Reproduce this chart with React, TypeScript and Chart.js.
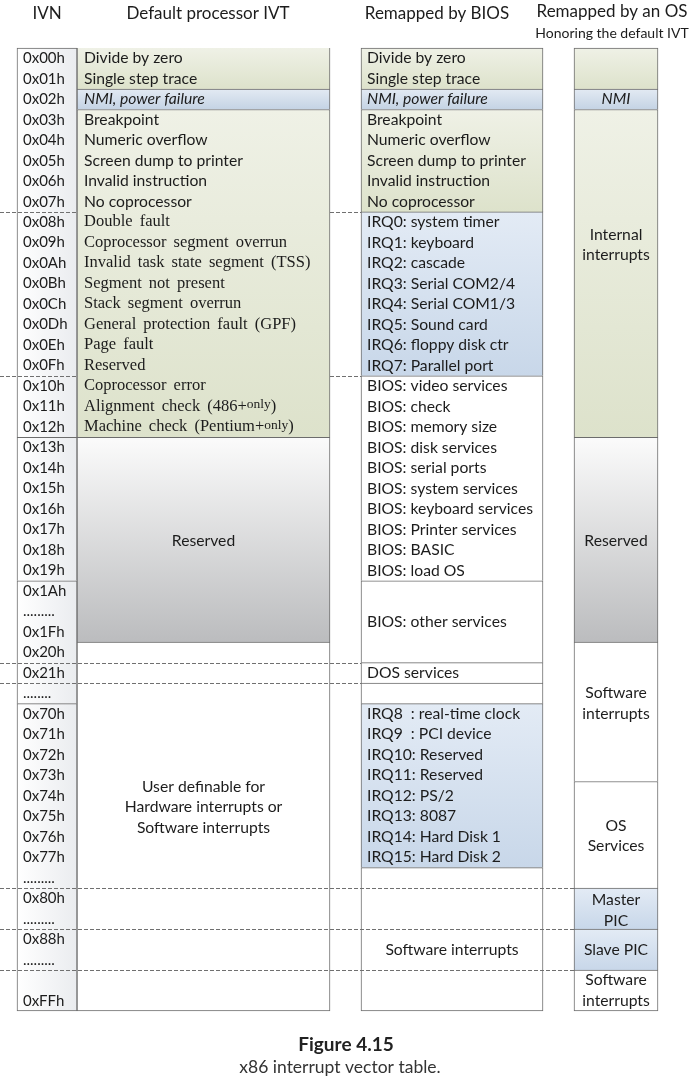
import React, { useEffect, useRef } from "react";
import { Chart, registerables } from "chart.js";

Chart.register(...registerables);

// ---------------- data ----------------
const IVN_LABELS = [
  "0x00h", "0x01h", "0x02h", "0x03h", "0x04h", "0x05h", "0x06h", "0x07h",
  "0x08h", "0x09h", "0x0Ah", "0x0Bh", "0x0Ch", "0x0Dh", "0x0Eh", "0x0Fh",
  "0x10h", "0x11h", "0x12h", "0x13h", "0x14h", "0x15h", "0x16h", "0x17h",
  "0x18h", "0x19h", "0x1Ah", ".........", "0x1Fh", "0x20h", "0x21h", "........",
  "0x70h", "0x71h", "0x72h", "0x73h", "0x74h", "0x75h", "0x76h", "0x77h",
  ".........", "0x80h", ".........", "0x88h", ".........", "", "0xFFh",
];
const IVN_SPANS = [[0, 19], [19, 26], [26, 32], [32, 47]];
const IVN_KINDS = ["ivn", "ivn", "ivn", "ivn"];

const DEFAULT_SPANS = [[0, 2], [2, 3], [3, 19], [19, 29], [29, 47]];
const DEFAULT_KINDS = ["exception", "nmi", "exception", "reserved", "free"];
const DEFAULT_ROW_TEXT = [
  "Divide by zero", "Single step trace", "NMI, power failure", "Breakpoint",
  "Numeric overflow", "Screen dump to printer", "Invalid instruction", "No coprocessor",
  "Double fault", "Coprocessor segment overrun", "Invalid task state segment (TSS)",
  "Segment not present", "Stack segment overrun", "General protection fault (GPF)",
  "Page fault", "Reserved", "Coprocessor error", "Alignment check (486+only)",
  "Machine check (Pentium+only)",
];
const DEFAULT_BLOCK_TEXT = [
  { lines: ["Reserved"], at: 24.05 },
  { lines: ["User definable for", "Hardware interrupts or", "Software interrupts"], at: 37.05 },
];

const BIOS_SPANS = [[0, 2], [2, 3], [3, 8], [8, 16], [16, 26], [26, 30], [30, 31], [31, 32], [32, 40], [40, 47]];
const BIOS_KINDS = ["exception", "nmi", "exception", "irq", "free", "free", "free", "free", "irq", "free"];
const BIOS_ROW_TEXT = [
  "Divide by zero", "Single step trace", "NMI, power failure", "Breakpoint",
  "Numeric overflow", "Screen dump to printer", "Invalid instruction", "No coprocessor",
  "IRQ0: system timer", "IRQ1: keyboard", "IRQ2: cascade", "IRQ3: Serial COM2/4",
  "IRQ4: Serial COM1/3", "IRQ5: Sound card", "IRQ6: floppy disk ctr", "IRQ7: Parallel port",
  "BIOS: video services", "BIOS: check", "BIOS: memory size", "BIOS: disk services",
  "BIOS: serial ports", "BIOS: system services", "BIOS: keyboard services",
  "BIOS: Printer services", "BIOS: BASIC", "BIOS: load OS",
  "", "", "", "", "DOS services", "",
  "IRQ8  : real-time clock", "IRQ9  : PCI device", "IRQ10: Reserved", "IRQ11: Reserved",
  "IRQ12: PS/2", "IRQ13: 8087", "IRQ14: Hard Disk 1", "IRQ15: Hard Disk 2",
  "", "", "", "", "", "", "",
];
const BIOS_BLOCK_TEXT = [
  { lines: ["BIOS: other services"], at: 28, align: "left" },
  { lines: ["Software interrupts"], at: 44, align: "center" },
];

const OS_SPANS = [[0, 2], [2, 3], [3, 19], [19, 29], [29, 35.8], [35.8, 41], [41, 43], [43, 45], [45, 47]];
const OS_KINDS = ["exception", "nmi", "exception", "reserved", "free", "free", "irq", "irq", "free"];
const OS_BLOCK_TEXT = [
  { lines: ["NMI"], at: 2.5, italic: true },
  { lines: ["Internal", "interrupts"], at: 9.6 },
  { lines: ["Reserved"], at: 24.05 },
  { lines: ["Software", "interrupts"], at: 32 },
  { lines: ["OS", "Services"], at: 38.45 },
  { lines: ["Master", "PIC"], at: 42.1 },
  { lines: ["Slave PIC"], at: 44 },
  { lines: ["Software", "interrupts"], at: 46 },
];

const HEADER_TITLES = ["IVN", "Default processor IVT", "Remapped by BIOS", "Remapped by an OS"];
const HEADER_SUBTITLE = "Honoring the default IVT";
const CAPTION_TITLE = "Figure 4.15";
const CAPTION_TEXT = "x86 interrupt vector table.";

// separator rows drawn as dashed lines (short: around the exception block, mid: through the
// default column, long: across all three left columns)
const DASH_SHORT_ROWS = [8, 16];
const DASH_MID_ROWS = [30, 31];
const DASH_LONG_ROWS = [41, 43, 45];

// ---------------- layout & style ----------------
const WIDTH = 693;
const HEIGHT = 1085;
const ROW_PX = 963 / 47;
const Y_MIN = -48 / ROW_PX;
const Y_MAX = Y_MIN + HEIGHT / ROW_PX;

const COLS = [
  { left: 17, right: 77 },   // IVN
  { left: 77, right: 330 },  // default
  { left: 361, right: 543 }, // BIOS
  { left: 574, right: 658 }, // OS
];
const HEADER_LAYOUT = [
  { x: 47, row: -1.66 },
  { x: 208, row: -1.66 },
  { x: 437, row: -1.66 },
  { x: 612, row: -1.76 },
];
const SUBTITLE_LAYOUT = { x: 612, row: -0.73 };
const CAPTION_LAYOUT = { x: 346, rowTitle: 48.63, rowText: 49.76 };

const SANS = "Lato, 'Open Sans', sans-serif";
const SERIF = "'Liberation Serif', 'Times New Roman', serif";
const TEXT_COLOR = "#1c1c1c";
const BORDER = "#6c6c6c";
const SERIF_ROWS_FROM = 8;
const ROW_FONT_PX = 15.7;

const GRADIENTS: Record<string, [string, string]> = {
  exception: ["#eff1e6", "#dde2cb"],
  nmi: ["#e3eaf3", "#c4d3e4"],
  irq: ["#e3ebf5", "#c8d7e9"],
  reserved: ["#fbfbfb", "#bbbcbe"],
  free: ["#ffffff", "#ffffff"],
  ivn: ["#ffffff", "#eaecef"],
};

const SPANS = [IVN_SPANS, DEFAULT_SPANS, BIOS_SPANS, OS_SPANS];
const KINDS = [IVN_KINDS, DEFAULT_KINDS, BIOS_KINDS, OS_KINDS];

function fillFor(c: any) {
  const kinds = KINDS[c.datasetIndex];
  if (!kinds || c.dataIndex === undefined || !c.raw) return "#ffffff";
  const kind = kinds[c.dataIndex];
  const [c0, c1] = GRADIENTS[kind];
  const chart = c.chart;
  const ys = chart.scales && chart.scales.y;
  const xs = chart.scales && chart.scales.x;
  if (!ys || !xs || !chart.chartArea) return c0;
  let a: number, b: number, horizontal = false;
  if (kind === "ivn") {
    const col = COLS[c.datasetIndex];
    a = xs.getPixelForValue(col.left);
    b = xs.getPixelForValue(col.right);
    horizontal = true;
  } else {
    a = ys.getPixelForValue(c.raw.y[0]);
    b = ys.getPixelForValue(c.raw.y[1]);
  }
  if (!isFinite(a) || !isFinite(b) || a === b) return c0;
  const lo = Math.min(a, b), hi = Math.max(a, b);
  const g = horizontal
    ? chart.ctx.createLinearGradient(lo, 0, hi, 0)
    : chart.ctx.createLinearGradient(0, lo, 0, hi);
  g.addColorStop(0, c0);
  g.addColorStop(1, c1);
  return g;
}

function borderFor(c: any) {
  const spans = SPANS[c.datasetIndex];
  if (!spans || c.dataIndex === undefined) return 1;
  const i = c.dataIndex;
  const noTop = c.datasetIndex === 1 && i === 0;
  return { top: noTop ? 0 : 1, left: 1, right: 1, bottom: i === spans.length - 1 ? 1 : 0 };
}

function makeDataset(i: number) {
  const col = COLS[i];
  const center = (col.left + col.right) / 2;
  return {
    data: SPANS[i].map(([a, b]) => ({ x: center, y: [a, b] })),
    barThickness: col.right - col.left,
    grouped: false,
    borderSkipped: false,
    borderColor: BORDER,
    borderWidth: borderFor,
    backgroundColor: fillFor,
  };
}

function drawRowText(ctx: CanvasRenderingContext2D, text: string, x: number, y: number, font: string, small: string) {
  const idx = text.indexOf("+only");
  ctx.font = font;
  if (idx < 0) {
    ctx.fillText(text, x, y);
    return;
  }
  const pre = text.slice(0, idx + 1);
  const post = text.slice(idx + 5);
  ctx.fillText(pre, x, y);
  let w = ctx.measureText(pre).width;
  ctx.font = small;
  ctx.fillText("only", x + w, y - 2);
  w += ctx.measureText("only").width;
  ctx.font = font;
  ctx.fillText(post, x + w, y);
}

const labelPlugin = {
  id: "ivtLabels",
  afterDatasetsDraw(chart: any) {
    const ctx: CanvasRenderingContext2D = chart.ctx;
    const xs = chart.scales.x;
    const ys = chart.scales.y;
    const mid = (r: number) => ys.getPixelForValue(r + 0.5);
    const px = (v: number) => xs.getPixelForValue(v);
    ctx.save();

    // dashed separators
    ctx.strokeStyle = "#707070";
    ctx.lineWidth = 1;
    ctx.setLineDash([4, 2]);
    const dash = (row: number, a: number, b: number) => {
      const y = Math.round(ys.getPixelForValue(row)) + 0.5;
      ctx.beginPath();
      ctx.moveTo(px(a), y);
      ctx.lineTo(px(b), y);
      ctx.stroke();
    };
    DASH_SHORT_ROWS.forEach((r) => {
      dash(r, 0, COLS[0].right);
      dash(r, COLS[1].right, COLS[2].left);
    });
    DASH_MID_ROWS.forEach((r) => dash(r, 0, COLS[2].left));
    DASH_LONG_ROWS.forEach((r) => dash(r, 0, COLS[3].left));
    ctx.setLineDash([]);

    ctx.fillStyle = TEXT_COLOR;
    ctx.textBaseline = "middle";

    // headers
    ctx.textAlign = "center";
    ctx.font = `17px ${SANS}`;
    HEADER_TITLES.forEach((t, i) => {
      ctx.fillText(t, px(HEADER_LAYOUT[i].x), ys.getPixelForValue(HEADER_LAYOUT[i].row));
    });
    ctx.font = `14px ${SANS}`;
    ctx.fillText(HEADER_SUBTITLE, px(SUBTITLE_LAYOUT.x), ys.getPixelForValue(SUBTITLE_LAYOUT.row));

    // IVN labels
    ctx.textAlign = "left";
    ctx.font = `15px ${SANS}`;
    IVN_LABELS.forEach((t, r) => {
      if (t) ctx.fillText(t, px(COLS[0].left + 6), mid(r));
    });

    // default column rows
    DEFAULT_ROW_TEXT.forEach((t, r) => {
      const serif = r >= SERIF_ROWS_FROM;
      const italic = r === 2;
      const font = serif ? `16.5px ${SERIF}` : `${italic ? "italic " : ""}${ROW_FONT_PX}px ${SANS}`;
      (ctx as any).wordSpacing = serif ? "3px" : "0px";
      drawRowText(ctx, t, px(COLS[1].left + 7), mid(r), font, `13.5px ${SERIF}`);
    });
    (ctx as any).wordSpacing = "0px";

    ctx.font = `${ROW_FONT_PX}px ${SANS}`;
    ctx.textAlign = "center";
    DEFAULT_BLOCK_TEXT.forEach((b) => {
      const n = b.lines.length;
      b.lines.forEach((l, k) => {
        ctx.fillText(l, px((COLS[1].left + COLS[1].right) / 2), ys.getPixelForValue(b.at + k - (n - 1) / 2));
      });
    });

    // BIOS column
    ctx.textAlign = "left";
    BIOS_ROW_TEXT.forEach((t, r) => {
      if (!t) return;
      ctx.font = `${r === 2 ? "italic " : ""}${ROW_FONT_PX}px ${SANS}`;
      ctx.fillText(t, px(COLS[2].left + 6), mid(r));
    });
    ctx.font = `${ROW_FONT_PX}px ${SANS}`;
    BIOS_BLOCK_TEXT.forEach((b) => {
      ctx.textAlign = b.align as CanvasTextAlign;
      const x = b.align === "center" ? (COLS[2].left + COLS[2].right) / 2 : COLS[2].left + 6;
      ctx.fillText(b.lines[0], px(x), ys.getPixelForValue(b.at));
    });

    // OS column
    ctx.textAlign = "center";
    OS_BLOCK_TEXT.forEach((b) => {
      ctx.font = `${b.italic ? "italic " : ""}${ROW_FONT_PX}px ${SANS}`;
      const n = b.lines.length;
      b.lines.forEach((l, k) => {
        ctx.fillText(l, px((COLS[3].left + COLS[3].right) / 2), ys.getPixelForValue(b.at + k - (n - 1) / 2));
      });
    });

    // caption
    ctx.fillStyle = "#222222";
    ctx.font = `bold 19px ${SANS}`;
    ctx.fillText(CAPTION_TITLE, px(CAPTION_LAYOUT.x), ys.getPixelForValue(CAPTION_LAYOUT.rowTitle));
    ctx.fillStyle = "#333333";
    ctx.font = `17.5px ${SANS}`;
    ctx.fillText(CAPTION_TEXT, px(CAPTION_LAYOUT.x - 6), ys.getPixelForValue(CAPTION_LAYOUT.rowText));

    ctx.restore();
  },
};

export default function App() {
  const ref = useRef<HTMLCanvasElement>(null);
  useEffect(() => {
    if (!ref.current) return;
    const chart = new Chart(ref.current, {
      type: "bar",
      data: { datasets: [0, 1, 2, 3].map(makeDataset) as any },
      options: {
        animation: false,
        responsive: false,
        devicePixelRatio: 1,
        events: [],
        layout: { padding: 0 },
        plugins: { legend: { display: false }, tooltip: { enabled: false }, title: { display: false } },
        scales: {
          x: { type: "linear", min: 0, max: WIDTH, offset: false, display: false },
          y: { type: "linear", min: Y_MIN, max: Y_MAX, reverse: true, display: false },
        },
      } as any,
      plugins: [labelPlugin],
    });
    return () => chart.destroy();
  }, []);
  return (
    <div style={{ position: "absolute", left: 0, top: 0, width: WIDTH, height: HEIGHT, background: "#ffffff" }}>
      <canvas ref={ref} width={WIDTH} height={HEIGHT} style={{ display: "block", width: WIDTH, height: HEIGHT }} />
    </div>
  );
}
